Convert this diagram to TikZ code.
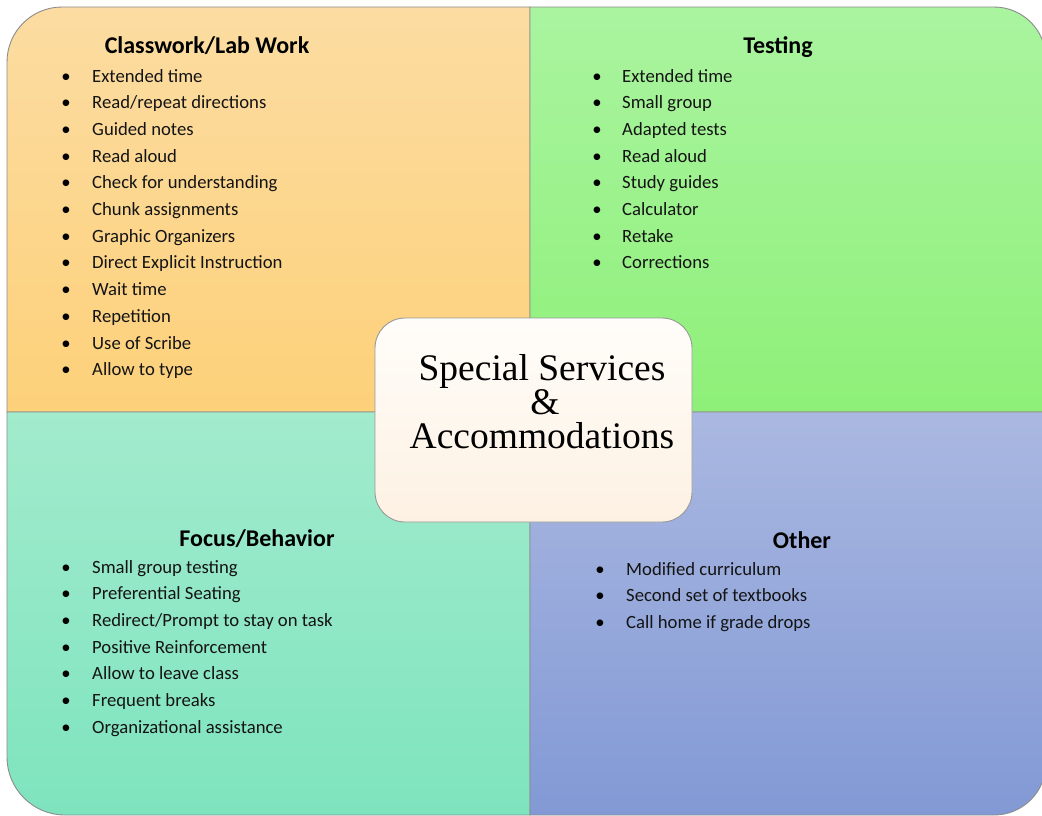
\documentclass[tikz,border=0pt]{standalone}
\usepackage{fontspec}
\setmainfont{Carlito}
\newfontfamily\titlefont{Liberation Serif}
\definecolor{orgA}{RGB}{252,220,162}
\definecolor{orgB}{RGB}{253,209,122}
\definecolor{grnA}{RGB}{170,244,160}
\definecolor{grnB}{RGB}{142,240,120}
\definecolor{tealA}{RGB}{162,235,205}
\definecolor{tealB}{RGB}{126,228,190}
\definecolor{bluA}{RGB}{170,184,225}
\definecolor{bluB}{RGB}{130,153,213}
\definecolor{boxA}{RGB}{255,253,250}
\definecolor{boxB}{RGB}{253,241,226}
\begin{document}
\begin{tikzpicture}[x=1pt,y=1pt,
  quad/.style={draw=black!45, line width=0.9pt},
  head/.style={anchor=base, inner sep=0pt, font=\fontsize{24}{28}\selectfont\bfseries, text=black},
  item/.style={anchor=base west, inner sep=0pt, font=\fontsize{18.7}{22}\selectfont, text=black!92},
  dot/.style={anchor=base, inner sep=0pt, font=\fontsize{18.7}{22}\selectfont, text=black},
  ttl/.style={anchor=base, inner sep=0pt, font=\titlefont\fontsize{37.5}{42}\selectfont, text=black}]

\fill[white] (0,0) rectangle (1042,-815);
\useasboundingbox (0,0) rectangle (1042,-815);

% four coloured quadrants
\path[quad, top color=orgA, bottom color=orgB]
  (530,-412) -- (7,-412) -- (7,-62) arc[start angle=180,end angle=90,radius=55pt] -- (530,-7) -- cycle;
\path[quad, top color=grnA, bottom color=grnB]
  (530,-7) -- (994,-7) arc[start angle=90,end angle=0,radius=52pt] -- (1046,-412) -- (530,-412) -- cycle;
\path[quad, top color=tealA, bottom color=tealB]
  (7,-412) -- (530,-412) -- (530,-815) -- (65,-815) arc[start angle=270,end angle=180,radius=58pt] -- cycle;
\path[quad, top color=bluA, bottom color=bluB]
  (530,-412) -- (1046,-412) -- (1046,-763) arc[start angle=0,end angle=-90,radius=52pt] -- (530,-815) -- cycle;

% Classwork/Lab Work
\node[head] (hcw) at (207,-53) {Classwork/Lab Work};
\foreach \t [count=\i] in {Extended time, Read/repeat directions, Guided notes, Read aloud,
  Check for understanding, Chunk assignments, Graphic Organizers, Direct Explicit Instruction,
  Wait time, Repetition, Use of Scribe, Allow to type} {
  \node[dot] (cwb\i) at (66,{-82-(\i-1)*26.7}) {•};
  \node[item] (cw\i) at (92,{-82-(\i-1)*26.7}) {\t};
}

% Testing
\node[head] (hts) at (778,-53) {Testing};
\foreach \t [count=\i] in {Extended time, Small group, Adapted tests, Read aloud,
  Study guides, Calculator, Retake, Corrections} {
  \node[dot] (tsb\i) at (597,{-82-(\i-1)*26.7}) {•};
  \node[item] (ts\i) at (622,{-82-(\i-1)*26.7}) {\t};
}

% Focus/Behavior
\node[head] (hfb) at (257,-546) {Focus/Behavior};
\foreach \t [count=\i] in {Small group testing, Preferential Seating, Redirect/Prompt to stay on task,
  Positive Reinforcement, Allow to leave class, Frequent breaks, Organizational assistance} {
  \node[dot] (fbb\i) at (66,{-573-(\i-1)*26.7}) {•};
  \node[item] (fb\i) at (92,{-573-(\i-1)*26.7}) {\t};
}

% Other
\node[head] (hot) at (802,-548) {Other};
\foreach \t [count=\i] in {Modified curriculum, Second set of textbooks, Call home if grade drops} {
  \node[dot] (otb\i) at (600,{-575-(\i-1)*26.7}) {•};
  \node[item] (ot\i) at (626,{-575-(\i-1)*26.7}) {\t};
}

% central box
\path[draw=black!40, line width=0.9pt, rounded corners=30pt, top color=boxA, bottom color=boxB]
  (375,-318) rectangle (692,-522);
\node[ttl] (t1) at (542,-380) {Special Services};
\node[ttl] (t2) at (545,-414) {\&};
\node[ttl] (t3) at (542,-448) {Accommodations};
\end{tikzpicture}
\end{document}
